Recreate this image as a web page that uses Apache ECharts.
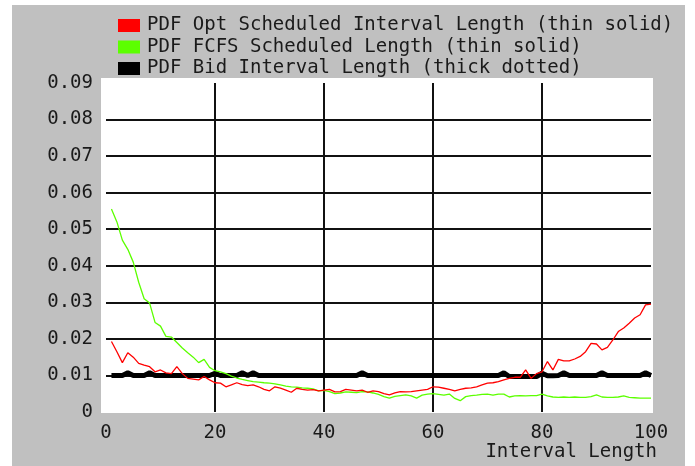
<!DOCTYPE html>
<html>
<head>
<meta charset="utf-8">
<script src="https://cdn.jsdelivr.net/npm/echarts@6/dist/echarts.min.js"></script>
<style>
  html, body { margin: 0; padding: 0; background: #ffffff; }
  #panel { position: absolute; left: 12px; top: 5px; width: 673px; height: 461px; background: #c0c0c0; }
  #chart { position: absolute; left: 0; top: 0; width: 695px; height: 466px; }
</style>
</head>
<body>
<div id="panel"></div>
<div id="chart"></div>
<script>
// Interval lengths (x) shared by all three distributions
const lengths = [
  1, 2, 3, 4, 5, 6, 7, 8, 9, 10,
  11, 12, 13, 14, 15, 16, 17, 18, 19, 20,
  21, 22, 23, 24, 25, 26, 27, 28, 29, 30,
  31, 32, 33, 34, 35, 36, 37, 38, 39, 40,
  41, 42, 43, 44, 45, 46, 47, 48, 49, 50,
  51, 52, 53, 54, 55, 56, 57, 58, 59, 60,
  61, 62, 63, 64, 65, 66, 67, 68, 69, 70,
  71, 72, 73, 74, 75, 76, 77, 78, 79, 80,
  81, 82, 83, 84, 85, 86, 87, 88, 89, 90,
  91, 92, 93, 94, 95, 96, 97, 98, 99, 100
];

// PDF of optimally scheduled interval length
const optPdf = [
  0.0193, 0.0165, 0.0135, 0.0162, 0.0150, 0.0133, 0.0128, 0.0124, 0.0110, 0.0115,
  0.0107, 0.0105, 0.0124, 0.0105, 0.0092, 0.0090, 0.0088, 0.0097, 0.0088, 0.0080,
  0.0079, 0.0069, 0.0074, 0.0080, 0.0075, 0.0072, 0.0074, 0.0069, 0.0062, 0.0058,
  0.0069, 0.0065, 0.0060, 0.0054, 0.0065, 0.0062, 0.0060, 0.0061, 0.0058, 0.0060,
  0.0062, 0.0055, 0.0056, 0.0062, 0.0060, 0.0058, 0.0060, 0.0054, 0.0058, 0.0056,
  0.0050, 0.0047, 0.0052, 0.0056, 0.0055, 0.0056, 0.0058, 0.0060, 0.0062, 0.0069,
  0.0068, 0.0065, 0.0062, 0.0058, 0.0062, 0.0065, 0.0066, 0.0069, 0.0074, 0.0079,
  0.0080, 0.0083, 0.0088, 0.0092, 0.0095, 0.0095, 0.0115, 0.0092, 0.0105, 0.0110,
  0.0138, 0.0115, 0.0144, 0.0140, 0.0140, 0.0145, 0.0152, 0.0165, 0.0188, 0.0186,
  0.0170, 0.0177, 0.0197, 0.0220, 0.0230, 0.0243, 0.0257, 0.0266, 0.0293, 0.0295
];

// PDF of first-come-first-served scheduled length
const fcfsPdf = [
  0.0555, 0.0520, 0.0470, 0.0445, 0.0410, 0.0355, 0.0310, 0.0298, 0.0245, 0.0235,
  0.0207, 0.0205, 0.0190, 0.0175, 0.0162, 0.0150, 0.0135, 0.0144, 0.0122, 0.0113,
  0.0110, 0.0105, 0.0098, 0.0093, 0.0089, 0.0086, 0.0083, 0.0082, 0.0080, 0.0079,
  0.0077, 0.0074, 0.0071, 0.0069, 0.0068, 0.0066, 0.0065, 0.0063, 0.0058, 0.0059,
  0.0056, 0.0050, 0.0052, 0.0055, 0.0054, 0.0053, 0.0056, 0.0055, 0.0052, 0.0048,
  0.0042, 0.0038, 0.0043, 0.0045, 0.0047, 0.0044, 0.0038, 0.0046, 0.0049, 0.0050,
  0.0048, 0.0046, 0.0049, 0.0037, 0.0031, 0.0042, 0.0045, 0.0046, 0.0048, 0.0049,
  0.0046, 0.0049, 0.0049, 0.0041, 0.0044, 0.0045, 0.0044, 0.0045, 0.0045, 0.0049,
  0.0044, 0.0041, 0.0040, 0.0041, 0.0040, 0.0041, 0.0040, 0.0040, 0.0042, 0.0047,
  0.0041, 0.0040, 0.0040, 0.0041, 0.0044, 0.0040, 0.0039, 0.0038, 0.0038, 0.0038
];

// PDF of bid interval length
const bidPdf = [
  0.0100, 0.0100, 0.0100, 0.0107, 0.0100, 0.0100, 0.0100, 0.0107, 0.0100, 0.0100,
  0.0100, 0.0100, 0.0100, 0.0100, 0.0100, 0.0100, 0.0100, 0.0100, 0.0100, 0.0106,
  0.0100, 0.0100, 0.0100, 0.0100, 0.0107, 0.0100, 0.0107, 0.0100, 0.0100, 0.0100,
  0.0100, 0.0100, 0.0100, 0.0100, 0.0100, 0.0100, 0.0100, 0.0100, 0.0100, 0.0100,
  0.0100, 0.0100, 0.0100, 0.0100, 0.0100, 0.0100, 0.0107, 0.0100, 0.0100, 0.0100,
  0.0100, 0.0100, 0.0100, 0.0100, 0.0100, 0.0100, 0.0100, 0.0100, 0.0100, 0.0100,
  0.0100, 0.0100, 0.0100, 0.0100, 0.0100, 0.0100, 0.0100, 0.0100, 0.0100, 0.0100,
  0.0100, 0.0100, 0.0107, 0.0097, 0.0097, 0.0097, 0.0097, 0.0097, 0.0097, 0.0106,
  0.0099, 0.0099, 0.0100, 0.0107, 0.0100, 0.0100, 0.0100, 0.0100, 0.0100, 0.0100,
  0.0107, 0.0100, 0.0100, 0.0100, 0.0100, 0.0100, 0.0100, 0.0100, 0.0107, 0.0100
];

const seriesNames = [
  'PDF Opt Scheduled Interval Length (thin solid)',
  'PDF FCFS Scheduled Length (thin solid)',
  'PDF Bid Interval Length (thick dotted)'
];
const xTicks = { min: 0, max: 100, interval: 20 };
const yTicks = { min: 0, max: 0.09, interval: 0.01 };

const pairs = (vals) => lengths.map((x, i) => [x, vals[i]]);

const FONT = 'DejaVu Sans Mono';
const TEXT = '#1a1a1a';

const chart = echarts.init(document.getElementById('chart'), null, { renderer: 'canvas' });

chart.setOption({
  backgroundColor: 'transparent',
  animation: false,
  legend: {
    orient: 'vertical',
    left: 113,
    top: 11,
    icon: 'rect',
    itemWidth: 22,
    itemHeight: 13,
    itemGap: 2.5,
    selectedMode: false,
    itemStyle: { borderWidth: 0 },
    textStyle: { fontFamily: FONT, fontSize: 19, color: TEXT, lineHeight: 19, padding: [0, 0, 0, 2] },
    data: seriesNames
  },
  grid: [
    { left: 106, right: 44, top: 83, bottom: 54, show: true, backgroundColor: '#ffffff', borderWidth: 0 },
    { left: 101, right: 42, top: 78, bottom: 53, show: true, backgroundColor: '#ffffff', borderWidth: 0, z: -1 }
  ],
  xAxis: [
    {
      type: 'value',
      gridIndex: 0,
      min: xTicks.min, max: xTicks.max, interval: xTicks.interval,
      axisLine: { show: false },
      axisTick: { show: false },
      splitLine: { show: true, showMinLine: false, showMaxLine: false, lineStyle: { color: '#111', width: 2 } },
      axisLabel: { fontFamily: FONT, fontSize: 19, color: TEXT, margin: 12 },
      name: 'Interval Length',
      nameLocation: 'end',
      nameGap: 6,
      nameTextStyle: { fontFamily: FONT, fontSize: 19, color: TEXT, align: 'right', verticalAlign: 'top', padding: [31, 0, 0, 0] }
    },
    { type: 'value', gridIndex: 1, show: false, min: 0, max: 1, splitLine: { show: false } }
  ],
  yAxis: [
    {
      type: 'value',
      gridIndex: 0,
      min: yTicks.min, max: yTicks.max, interval: yTicks.interval,
      axisLine: { show: false },
      axisTick: { show: false },
      splitLine: { show: true, showMinLine: false, showMaxLine: false, lineStyle: { color: '#111', width: 2 } },
      axisLabel: { fontFamily: FONT, fontSize: 19, color: TEXT, margin: 13 }
    },
    { type: 'value', gridIndex: 1, show: false, min: 0, max: 1, splitLine: { show: false } }
  ],
  series: [
    {
      name: seriesNames[2],
      type: 'line',
      data: pairs(bidPdf),
      showSymbol: false,
      color: '#000000',
      lineStyle: { color: '#000000', width: 5 },
      z: 3
    },
    {
      name: seriesNames[1],
      type: 'line',
      data: pairs(fcfsPdf),
      showSymbol: false,
      color: '#5cff00',
      lineStyle: { color: '#5cff00', width: 1.3 },
      z: 4
    },
    {
      name: seriesNames[0],
      type: 'line',
      data: pairs(optPdf),
      showSymbol: false,
      color: '#ff0000',
      lineStyle: { color: '#ff0000', width: 1.3 },
      z: 5
    }
  ]
});
</script>
</body>
</html>
